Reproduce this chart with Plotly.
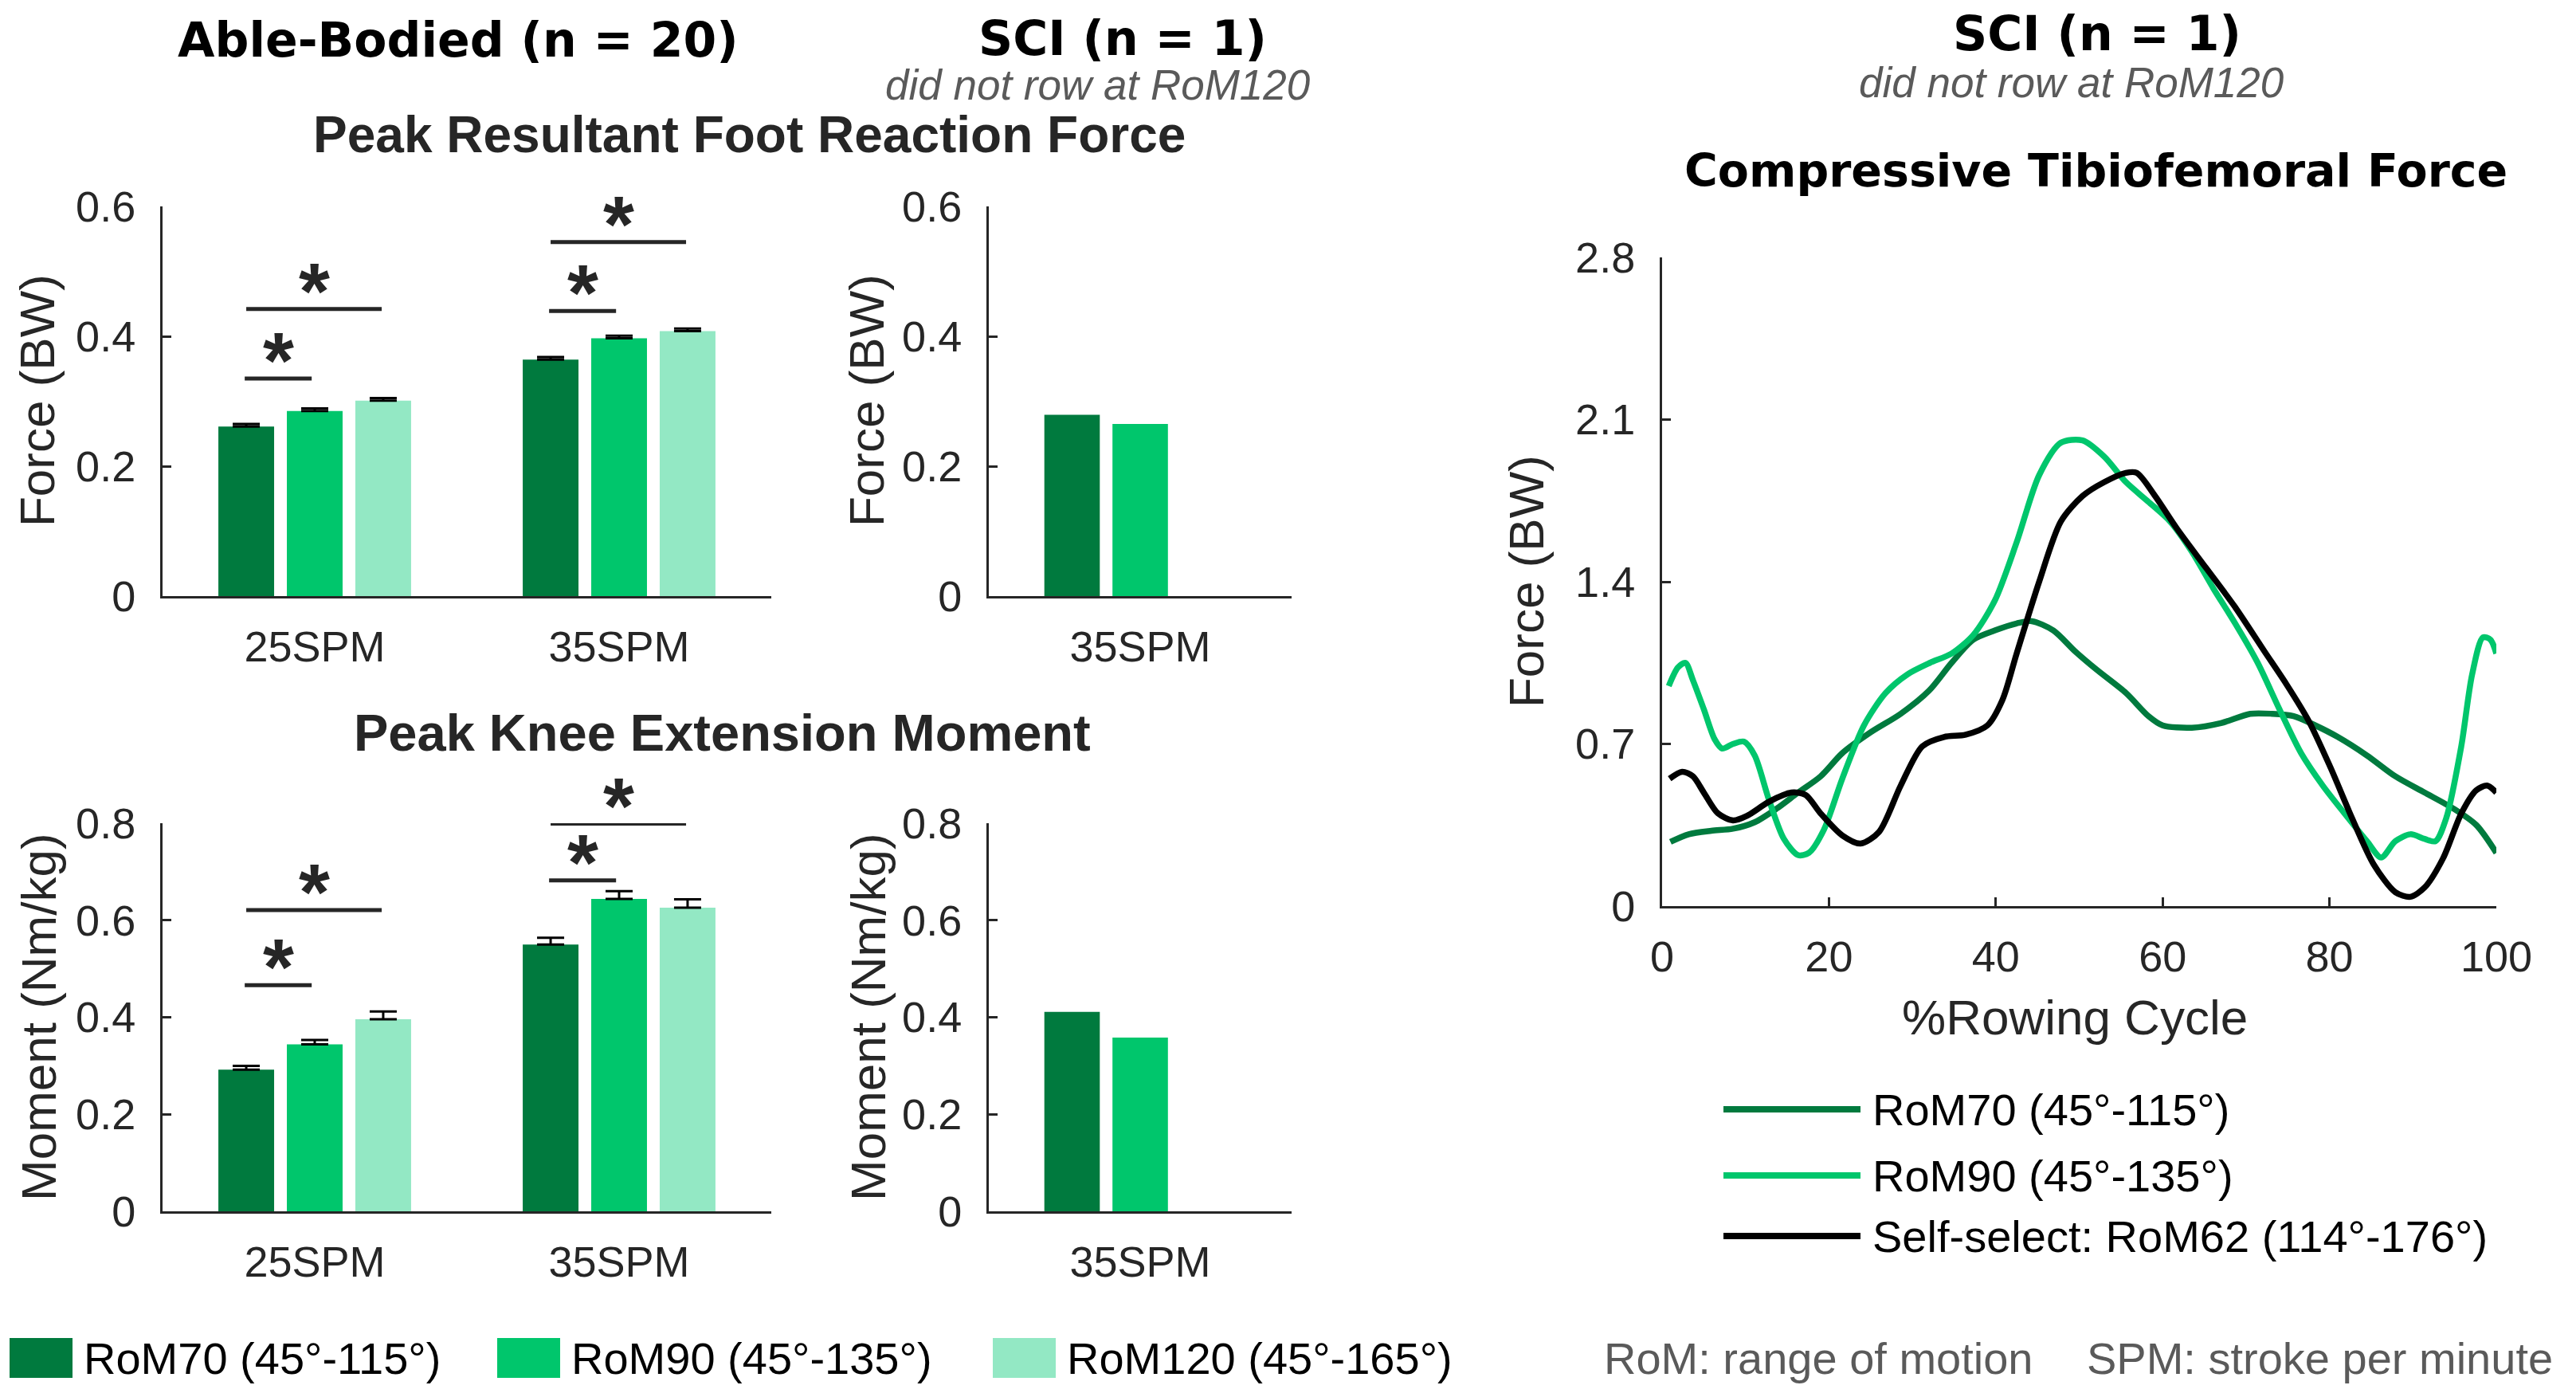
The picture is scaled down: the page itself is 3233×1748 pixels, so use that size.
import plotly.graph_objects as go

W, H = 3233, 1748
PAGE_MARGIN = 8  # default <body> margin around the plot div

# ---------------- data ----------------
ab_categories = ['25SPM', '35SPM']
sci_categories = ['35SPM']
rom_labels = ['RoM70 (45°-115°)', 'RoM90 (45°-135°)', 'RoM120 (45°-165°)']
rom_colors = ['#007a3e', '#00c66c', '#93e8c4']

# peak resultant foot reaction force (BW)
ab_force_rom70 = [0.261, 0.364]
ab_force_rom90 = [0.285, 0.397]
ab_force_rom120 = [0.301, 0.408]
ab_force_err_rom70 = [0.004, 0.004]
ab_force_err_rom90 = [0.004, 0.004]
ab_force_err_rom120 = [0.004, 0.004]
sci_force_rom70 = [0.279]
sci_force_rom90 = [0.265]
sci_force_rom120 = [None]

# peak knee extension moment (Nm/kg)
ab_moment_rom70 = [0.292, 0.550]
ab_moment_rom90 = [0.344, 0.644]
ab_moment_rom120 = [0.396, 0.626]
ab_moment_err_rom70 = [0.008, 0.014]
ab_moment_err_rom90 = [0.009, 0.016]
ab_moment_err_rom120 = [0.016, 0.017]
sci_moment_rom70 = [0.411]
sci_moment_rom90 = [0.358]
sci_moment_rom120 = [None]

# significance brackets: RoM70 vs RoM90 (short), RoM70 vs RoM120 (long)
force_sig_short = [0.335, 0.439]
force_sig_long = [0.442, 0.545]
moment_sig_short = [0.466, 0.682]
moment_sig_long = [0.621, 0.799]

# compressive tibiofemoral force, SCI participant (BW)
line_labels = ['RoM70 (45°-115°)', 'RoM90 (45°-135°)', 'Self-select: RoM62 (114°-176°)']
line_colors = ['#007a3e', '#00c66c', '#000000']

rom70_pct = [1, 3.2, 5.9, 8.5, 11.1, 13.7, 16.3, 19, 21.6, 25, 28.6, 32, 34.7, 37.3, 39.9, 42.5,
             44.3, 46.9, 49.5, 52.1, 55.6, 58.3, 60, 63.5, 67, 70.5, 73.1, 75.7, 78.3, 81, 84.5,
             87.9, 91.4, 94.9, 97.6, 100]
rom70_tf = [0.277, 0.31, 0.325, 0.334, 0.362, 0.42, 0.49, 0.56, 0.66, 0.75, 0.83, 0.93, 1.05, 1.15,
            1.19, 1.22, 1.23, 1.19, 1.10, 1.02, 0.92, 0.82, 0.78, 0.77, 0.79, 0.83, 0.83, 0.82, 0.78,
            0.73, 0.65, 0.56, 0.49, 0.42, 0.35, 0.23]

rom90_pct = [0.8, 1.9, 2.8, 3.7, 5, 6.3, 7.2, 8.5, 9.8, 11.1, 12.8, 14.6, 16.3, 17.6, 19.4, 21.6,
             24.2, 26.8, 29.4, 32.1, 34.7, 37.3, 39.9, 42.5, 45.2, 47.8, 50.4, 53, 55.6, 58.3, 60.9,
             63.5, 66.1, 68.7, 71.4, 74, 76.6, 79.2, 81.8, 84.5, 86.2, 87.9, 89.7, 91.4, 92.7, 94,
             95.8, 97.1, 98.4, 99.3, 100]
rom90_tf = [0.95, 1.03, 1.05, 0.975, 0.85, 0.72, 0.68, 0.70, 0.71, 0.65, 0.46, 0.29, 0.22, 0.23,
            0.33, 0.55, 0.78, 0.92, 1.00, 1.05, 1.09, 1.17, 1.32, 1.57, 1.86, 2.00, 2.01, 1.94, 1.83,
            1.745, 1.66, 1.53, 1.37, 1.22, 1.05, 0.85, 0.66, 0.52, 0.40, 0.28, 0.21, 0.28, 0.31,
            0.29, 0.28, 0.38, 0.69, 1.00, 1.16, 1.15, 1.09]

self_pct = [0.9, 2.4, 3.7, 5, 6.7, 8.5, 10.2, 12.8, 15.5, 17.2, 19, 21.6, 23.8, 26, 28.6, 31.2,
            33.8, 36.4, 39, 40.8, 42.5, 45.2, 47.8, 50.4, 53, 55.6, 56.9, 59.1, 61.7, 65.2, 68.7,
            72.2, 74.8, 77.5, 80.1, 82.7, 85.3, 87.9, 89.7, 91.4, 93.6, 95.8, 97.6, 98.9, 100]
self_tf = [0.55, 0.58, 0.56, 0.49, 0.40, 0.37, 0.39, 0.45, 0.49, 0.48, 0.40, 0.305, 0.27, 0.32,
           0.52, 0.69, 0.73, 0.74, 0.78, 0.89, 1.09, 1.40, 1.66, 1.77, 1.83, 1.87, 1.87, 1.77, 1.63,
           1.46, 1.29, 1.10, 0.96, 0.80, 0.60, 0.38, 0.18, 0.06, 0.04, 0.08, 0.205, 0.40, 0.50,
           0.52, 0.49]

# ---------------- style ----------------
FONT = 'Liberation Sans'
HEAVY = 'DejaVu Sans'
AX = '#262626'

FW, FH = W - 2 * PAGE_MARGIN, H - 2 * PAGE_MARGIN


def xd(px):
    # page pixel -> paper fraction
    return (px - PAGE_MARGIN) / FW


def yd(py):
    return 1 - (py - PAGE_MARGIN) / FH


fig = go.Figure()


def add_bars(xa, ya, cats, series, errors):
    for i, vals in enumerate(series):
        err = None
        if errors is not None:
            err = dict(type='data', symmetric=False, array=errors[i],
                       arrayminus=[0] * len(errors[i]), color='black',
                       thickness=3, width=17)
        fig.add_trace(go.Bar(x=cats, y=vals, name=rom_labels[i],
                             marker=dict(color=rom_colors[i], line=dict(width=0)),
                             error_y=err, xaxis=xa, yaxis=ya, showlegend=False))


add_bars('x', 'y', ab_categories, [ab_force_rom70, ab_force_rom90, ab_force_rom120],
         [ab_force_err_rom70, ab_force_err_rom90, ab_force_err_rom120])
add_bars('x2', 'y2', sci_categories, [sci_force_rom70, sci_force_rom90, sci_force_rom120], None)
add_bars('x3', 'y3', ab_categories, [ab_moment_rom70, ab_moment_rom90, ab_moment_rom120],
         [ab_moment_err_rom70, ab_moment_err_rom90, ab_moment_err_rom120])
add_bars('x4', 'y4', sci_categories, [sci_moment_rom70, sci_moment_rom90, sci_moment_rom120], None)

for pct, tf, name, color in zip([rom70_pct, rom90_pct, self_pct], [rom70_tf, rom90_tf, self_tf],
                                line_labels, line_colors):
    fig.add_trace(go.Scatter(x=pct, y=tf, mode='lines', name=name,
                             line=dict(color=color, width=7.5, shape='spline', smoothing=0.8),
                             xaxis='x5', yaxis='y5', showlegend=False))

tickfont = dict(family=FONT, size=54, color=AX)
base_axis = dict(showline=True, linecolor=AX, linewidth=3, showgrid=False, zeroline=False,
                 tickfont=tickfont, automargin=False)


def cat_x(px0, px1, anchor, n):
    return dict(base_axis, domain=[xd(px0), xd(px1)], anchor=anchor, type='category',
                range=[-0.5, n - 0.5], ticks='', ticklabelstandoff=14)


def val_y(py0, py1, anchor, top, step):
    return dict(base_axis, domain=[yd(py1), yd(py0)], anchor=anchor, range=[0, top],
                dtick=step, ticks='inside', ticklen=11, tickwidth=3, tickcolor=AX,
                ticklabelstandoff=20)


fig.update_layout(
    width=FW, height=FH,
    margin=dict(l=0, r=0, t=0, b=0, pad=0, autoexpand=False),
    paper_bgcolor='white', plot_bgcolor='white',
    showlegend=False,
    barmode='group', bargap=0.325, bargroupgap=0.186,
    xaxis=cat_x(204, 968, 'y', 2),
    yaxis=val_y(259, 748, 'x', 0.6, 0.2),
    xaxis2=cat_x(1241, 1621, 'y2', 1),
    yaxis2=val_y(259, 748, 'x2', 0.6, 0.2),
    xaxis3=cat_x(204, 968, 'y3', 2),
    yaxis3=val_y(1033, 1520, 'x3', 0.8, 0.2),
    xaxis4=cat_x(1241, 1621, 'y4', 1),
    yaxis4=val_y(1033, 1520, 'x4', 0.8, 0.2),
    xaxis5=dict(base_axis, domain=[xd(2086), xd(3133)], anchor='y5', range=[0, 100], dtick=20,
                ticks='inside', ticklen=11, tickwidth=3, tickcolor=AX, ticklabelstandoff=14),
    yaxis5=val_y(323, 1137, 'x5', 2.8, 0.7),
)

# significance brackets and stars
shapes = []
annotations = []
sig_short_x = (-0.23, -0.01)
sig_long_x = (-0.225, 0.22)
for xa, ya, shorts, longs in [('x', 'y', force_sig_short, force_sig_long),
                              ('x3', 'y3', moment_sig_short, moment_sig_long)]:
    for ci in range(len(ab_categories)):
        for (dx0, dx1), h in [(sig_short_x, shorts[ci]), (sig_long_x, longs[ci])]:
            shapes.append(dict(type='line', xref=xa, yref=ya, x0=ci + dx0, x1=ci + dx1,
                               y0=h, y1=h, line=dict(color=AX, width=5)))
            annotations.append(dict(xref=xa, yref=ya, x=ci + (dx0 + dx1) / 2, y=h,
                                    text='<b>*</b>', showarrow=False, yanchor='middle',
                                    yshift=23, font=dict(family=FONT, size=100, color=AX)))


def label(px, py, text, size, color=AX, family=FONT, xanchor='center', angle=0, style='normal'):
    annotations.append(dict(xref='paper', yref='paper', x=xd(px), y=yd(py), text=text,
                            showarrow=False, xanchor=xanchor, yanchor='middle',
                            textangle=angle,
                            font=dict(family=family, size=size, color=color, style=style)))


# headers
label(575, 50, '<b>Able-Bodied (n = 20)</b>', 60, color='black', family=HEAVY)
label(1409, 48, '<b>SCI (n = 1)</b>', 60, color='black', family=HEAVY)
label(1378, 106, 'did not row at RoM120', 53, color='#5a5a5a', style='italic')
label(2632, 42, '<b>SCI (n = 1)</b>', 60, color='black', family=HEAVY)
label(2600, 103, 'did not row at RoM120', 53, color='#5a5a5a', style='italic')
label(940, 169, '<b>Peak Resultant Foot Reaction Force</b>', 64)
label(906, 919, '<b>Peak Knee Extension Moment</b>', 65)
label(2630, 214, '<b>Compressive Tibiofemoral Force</b>', 57, color='black', family=HEAVY)

# axis titles
label(46, 503, 'Force (BW)', 62, angle=-90)
label(1087, 503, 'Force (BW)', 62, angle=-90)
label(48, 1276, 'Moment (Nm/kg)', 62, angle=-90)
label(1089, 1276, 'Moment (Nm/kg)', 62, angle=-90)
label(1915, 730, 'Force (BW)', 62, angle=-90)
label(2604, 1276, '%Rowing Cycle', 62)

# bar legend
for sx, name, color in zip([12, 624, 1246], rom_labels, rom_colors):
    shapes.append(dict(type='rect', xref='paper', yref='paper', x0=xd(sx), x1=xd(sx + 79),
                       y0=yd(1729), y1=yd(1679), fillcolor=color, line=dict(width=0)))
    label(sx + 91, 1704, name, 56, color='black', xanchor='left')

# line legend
for ly, name, color in zip([1392, 1475, 1551], line_labels, line_colors):
    shapes.append(dict(type='line', xref='paper', yref='paper', x0=xd(2163), x1=xd(2335),
                       y0=yd(ly), y1=yd(ly), line=dict(color=color, width=8)))
    label(2348, ly, name, 56, color='black', xanchor='left')

# footnote
label(2011, 1704, 'RoM: range of motion', 56, color='#5a5a5a', xanchor='left')
label(2617, 1704, 'SPM: stroke per minute', 56, color='#5a5a5a', xanchor='left')

fig.update_layout(shapes=shapes, annotations=annotations)

fig.write_html("out.html")
